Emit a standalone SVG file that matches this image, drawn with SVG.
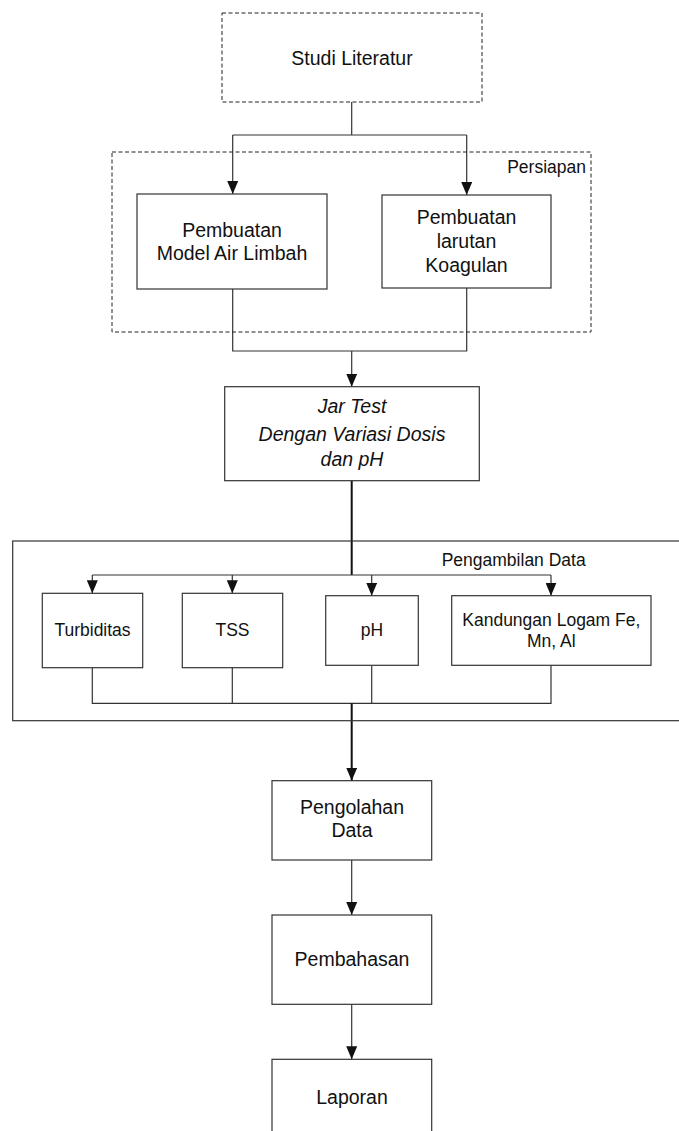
<svg xmlns="http://www.w3.org/2000/svg" width="679" height="1131" viewBox="0 0 679 1131">
  <style>
    .box { fill: none; stroke: #333; stroke-width: 1.2; }
    .dash { fill: none; stroke: #222; stroke-width: 1; stroke-dasharray: 4 2.5; }
    .t { font-family: "Liberation Sans", Arial, sans-serif; font-size: 19.5px; fill: #111; text-anchor: middle; }
    .s { font-family: "Liberation Sans", Arial, sans-serif; font-size: 17.5px; fill: #111; text-anchor: middle; }
    .i { font-style: italic; }
    .c { fill: none; stroke: #333; stroke-width: 1.2; }
    .cb { fill: none; stroke: #111; stroke-width: 2; }
  </style>
  <defs>
    <marker id="arr" viewBox="0 0 13 11" refX="13" refY="5.5" markerWidth="13" markerHeight="11" markerUnits="userSpaceOnUse" orient="auto">
      <path d="M0,0 L13,5.5 L0,11 z" fill="#111"/>
    </marker>
  </defs>
  <rect width="679" height="1131" fill="#ffffff"/>

  <g id="connectors">
    <path class="c" d="M351.7,102 V135 M232.7,135 H466.7"/>
    <path class="c" d="M232.7,135 V194" marker-end="url(#arr)"/>
    <path class="c" d="M466.7,135 V195" marker-end="url(#arr)"/>
    <path class="c" d="M232.7,289 V351 H466.7 V288"/>
    <path class="c" d="M351.7,351 V386.7" marker-end="url(#arr)"/>
    <path class="cb" d="M351.7,480.7 V575"/>
    <path class="c" d="M92.3,575 H551"/>
    <path class="c" d="M92.3,575 V593.3" marker-end="url(#arr)"/>
    <path class="c" d="M232.3,575 V593.3" marker-end="url(#arr)"/>
    <path class="c" d="M371.7,575 V595.7" marker-end="url(#arr)"/>
    <path class="c" d="M551,575 V595.7" marker-end="url(#arr)"/>
    <path class="c" d="M92.3,667.7 V703.3 H551 V665.3 M232.3,667.7 V703.3 M371.7,665.7 V703.3"/>
    <path class="cb" d="M351.7,703.3 V780.7" marker-end="url(#arr)"/>
    <path class="c" d="M351.7,860 V915" marker-end="url(#arr)"/>
    <path class="c" d="M351.7,1004.3 V1059.3" marker-end="url(#arr)"/>
  </g>

  <g id="studi-literatur">
    <rect class="dash" x="222" y="13" width="260" height="89"/>
    <text class="t" x="352" y="65">Studi Literatur</text>
  </g>

  <g id="persiapan">
    <rect class="dash" x="112" y="152" width="479" height="180"/>
    <text class="s" x="586" y="173" style="text-anchor:end">Persiapan</text>
  </g>

  <g id="model-air-limbah">
    <rect class="box" x="137" y="194" width="190" height="95"/>
    <text class="t" x="232" y="237">Pembuatan</text>
    <text class="t" x="232" y="260">Model Air Limbah</text>
  </g>

  <g id="larutan-koagulan">
    <rect class="box" x="382" y="195" width="169" height="93"/>
    <text class="t" x="466.5" y="224">Pembuatan</text>
    <text class="t" x="466.5" y="248">larutan</text>
    <text class="t" x="466.5" y="272">Koagulan</text>
  </g>

  <g id="jar-test">
    <rect class="box" x="224.7" y="386.7" width="254.6" height="94"/>
    <text class="t i" x="352" y="413">Jar Test</text>
    <text class="t i" x="352" y="441">Dengan Variasi Dosis</text>
    <text class="t i" x="352" y="466">dan pH</text>
  </g>

  <g id="pengambilan-data">
    <rect class="box" x="12.7" y="541" width="700" height="179.7"/>
    <text class="s" x="441.7" y="566" style="text-anchor:start">Pengambilan Data</text>
  </g>

  <g id="turbiditas">
    <rect class="box" x="42.3" y="593.3" width="100.4" height="74.4"/>
    <text class="s" x="92.5" y="636">Turbiditas</text>
  </g>

  <g id="tss">
    <rect class="box" x="182.3" y="593.3" width="100.4" height="74.4"/>
    <text class="s" x="232.5" y="636">TSS</text>
  </g>

  <g id="ph">
    <rect class="box" x="325.7" y="595.7" width="92.6" height="69.6"/>
    <text class="s" x="372" y="636">pH</text>
  </g>

  <g id="kandungan-logam">
    <rect class="box" x="451.7" y="595.7" width="199.3" height="69.6"/>
    <text class="s" x="551.3" y="626">Kandungan Logam Fe,</text>
    <text class="s" x="551.3" y="647">Mn, Al</text>
  </g>

  <g id="pengolahan-data">
    <rect class="box" x="272" y="780.7" width="159.7" height="79.3"/>
    <text class="t" x="352" y="814">Pengolahan</text>
    <text class="t" x="352" y="837">Data</text>
  </g>

  <g id="pembahasan">
    <rect class="box" x="272" y="915" width="159.7" height="89.3"/>
    <text class="t" x="352" y="966">Pembahasan</text>
  </g>

  <g id="laporan">
    <rect class="box" x="272" y="1059.3" width="159.7" height="85"/>
    <text class="t" x="352" y="1104">Laporan</text>
  </g>
</svg>
